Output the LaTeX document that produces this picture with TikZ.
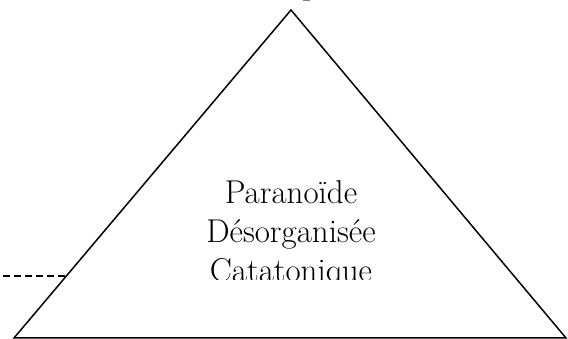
\documentclass[tikz,border=0pt]{standalone}
\begin{document}
\begin{tikzpicture}[x=1pt,y=1pt,
  edge/.style={line width=1.5pt, line join=miter},
  dashline/.style={line width=2pt, dash pattern=on 7pt off 4pt},
  label/.style={anchor=base, inner sep=0pt, font=\fontsize{33}{39}\selectfont}]
\useasboundingbox (0,0) rectangle (568,339);
\coordinate (apex) at (291,329);
\coordinate (bl) at (14,1);
\coordinate (br) at (566,1);
\coordinate (dstart) at (3,63);
\coordinate (dend) at (66,63);
\draw[edge] (bl) -- (apex) -- (br) -- cycle;
\draw[dashline] (dstart) -- (dend);
\fill[gray] (303,338) rectangle (310,339.5);
\begin{scope}
  \clip (0,59) rectangle (568,339);
  \node[label] (p) at (291,135) {Parano\"ide};
  \node[label] (d) at (291,96) {D\'esorganis\'ee};
  \node[label] (c) at (291,57) {Catatonique};
\end{scope}
\end{tikzpicture}
\end{document}
